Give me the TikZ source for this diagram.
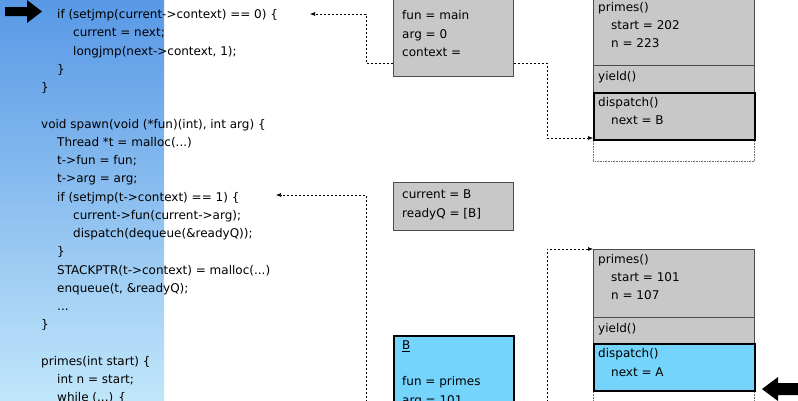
\documentclass[tikz,border=0pt]{standalone}
\usepackage{fontspec}
\setmainfont{DejaVu Sans}
\usetikzlibrary{arrows.meta}
\definecolor{boxgray}{RGB}{200,200,200}
\definecolor{boxblue}{RGB}{116,212,252}
\definecolor{gradtop}{RGB}{88,152,230}
\definecolor{gradbot}{RGB}{192,230,250}
\begin{document}
\begin{tikzpicture}[x=1pt,y=-1pt,
  font=\fontsize{12}{14}\selectfont,
  code/.style={anchor=base west, inner sep=0pt},
  frame/.style={draw=black!70, line width=0.8pt, anchor=north west, inner sep=0pt},
  graybox/.style={frame, fill=boxgray},
  bluebox/.style={frame, fill=boxblue},
  thickbox/.style={draw=black, line width=1.6pt},
  emptybox/.style={draw=black!55, densely dotted, line width=0.6pt, anchor=north west, inner sep=0pt},
  link/.style={draw=black, line width=0.6pt, dash pattern=on 2pt off 2pt, -{Latex[length=5pt,width=4pt]}},
  blockarrow/.style={fill=black}]
\useasboundingbox (0,0) rectangle (798,400);
% left gradient strip
\fill[top color=gradtop, bottom color=gradbot] (0,0) rectangle (164,400);

% code
\node[code] (c1)  at (57,18.5)  {if (setjmp(current->context) == 0) \{};
\node[code] (c2)  at (73,36.75) {current = next;};
\node[code] (c3)  at (73,55)    {longjmp(next->context, 1);};
\node[code] (c4)  at (57,73.25) {\}};
\node[code] (c5)  at (41,91.5)  {\}};
\node[code] (c6)  at (41,128)   {void spawn(void (*fun)(int), int arg) \{};
\node[code] (c7)  at (57,146.25){Thread *t = malloc(...)};
\node[code] (c8)  at (57,164.5) {t->fun = fun;};
\node[code] (c9)  at (57,182.75){t->arg = arg;};
\node[code] (c10) at (57,201)   {if (setjmp(t->context) == 1) \{};
\node[code] (c11) at (73,219.25){current->fun(current->arg);};
\node[code] (c12) at (73,237.5) {dispatch(dequeue(\&readyQ));};
\node[code] (c13) at (57,255.75){\}};
\node[code] (c14) at (57,274)   {STACKPTR(t->context) = malloc(...)};
\node[code] (c15) at (57,292.25){enqueue(t, \&readyQ);};
\node[code] (c16) at (57,310.5) {...};
\node[code] (c17) at (41,328.75){\}};
\node[code] (c18) at (41,365.25){primes(int start) \{};
\node[code] (c19) at (57,383.5) {int n = start;};
\node[code] (c20) at (57,401.75){while (...) \{};

% block arrows
\fill[blockarrow] (5,7) -- (27,7) -- (27,0) -- (42,11.5) -- (27,23) -- (27,16) -- (5,16) -- cycle;
\fill[blockarrow] (762,389) -- (778,377) -- (778,383) -- (800,383) -- (800,395) -- (778,395) -- (778,401) -- cycle;

% context boxes
\node[graybox, minimum width=120pt, minimum height=86pt] (ctxA) at (393,-10) {};
\node[code] (ta1) at (402,19.5) {fun = main};
\node[code] (ta2) at (402,38.5) {arg = 0};
\node[code] (ta3) at (402,56.5) {context =};

\node[graybox, minimum width=120pt, minimum height=48pt] (glob) at (393,182) {};
\node[code] (tg1) at (402,198.5) {current = B};
\node[code] (tg2) at (402,217.5) {readyQ = [B]};

\node[bluebox, thickbox, minimum width=120pt, minimum height=80pt] (ctxB) at (393,335) {};
\node[code] (tb1) at (402,349.5) {\underline{B}};
\node[code] (tb2) at (402,385.5) {fun = primes};
\node[code] (tb3) at (402,404) {arg = 101};

% top stack
\node[emptybox, minimum width=161pt, minimum height=22pt] (emptA) at (593,139) {};
\node[graybox, minimum width=161pt, minimum height=75pt] (primA) at (593,-10) {};
\node[graybox, minimum width=161pt, minimum height=27pt] (yldA) at (593,65) {};
\node[graybox, thickbox, minimum width=161pt, minimum height=47pt] (dispA) at (593,92) {};
\node[code] (sa1) at (598,11) {primes()};
\node[code] (sa2) at (611,29) {start = 202};
\node[code] (sa3) at (611,47) {n = 223};
\node[code] (sa4) at (598,80.5) {yield()};
\node[code] (sa5) at (598,106.5) {dispatch()};
\node[code] (sa6) at (611,124.5) {next = B};

% bottom stack
\node[emptybox, minimum width=161pt, minimum height=22pt] (emptB) at (593,390) {};
\node[graybox, minimum width=161pt, minimum height=68pt] (primB) at (593,249) {};
\node[graybox, minimum width=161pt, minimum height=26pt] (yldB) at (593,317) {};
\node[bluebox, thickbox, minimum width=161pt, minimum height=47pt] (dispB) at (593,343) {};
\node[code] (sb1) at (598,263.5) {primes()};
\node[code] (sb2) at (611,281.5) {start = 101};
\node[code] (sb3) at (611,299.5) {n = 107};
\node[code] (sb4) at (598,332.5) {yield()};
\node[code] (sb5) at (598,357.5) {dispatch()};
\node[code] (sb6) at (611,376.5) {next = A};

% connectors
\coordinate (yA) at (0,63);
\coordinate (xL) at (366,0);
\coordinate (xR) at (547,0);
\coordinate (tipA) at (310,14);
\coordinate (tipS) at (276,195);
\coordinate (tipD) at (593,138);
\coordinate (tipP) at (593,249);
\coordinate (srcS) at (366,410);
\coordinate (srcP) at (547,410);
\draw[link] (ctxA.west |- yA) -| (xL |- tipA) -- (tipA);
\draw[link] (ctxA.east |- yA) -| (xR |- tipD) -- (tipD);
\draw[link] (srcS) |- (tipS);
\draw[link] (srcP) |- (tipP);
\end{tikzpicture}
\end{document}
